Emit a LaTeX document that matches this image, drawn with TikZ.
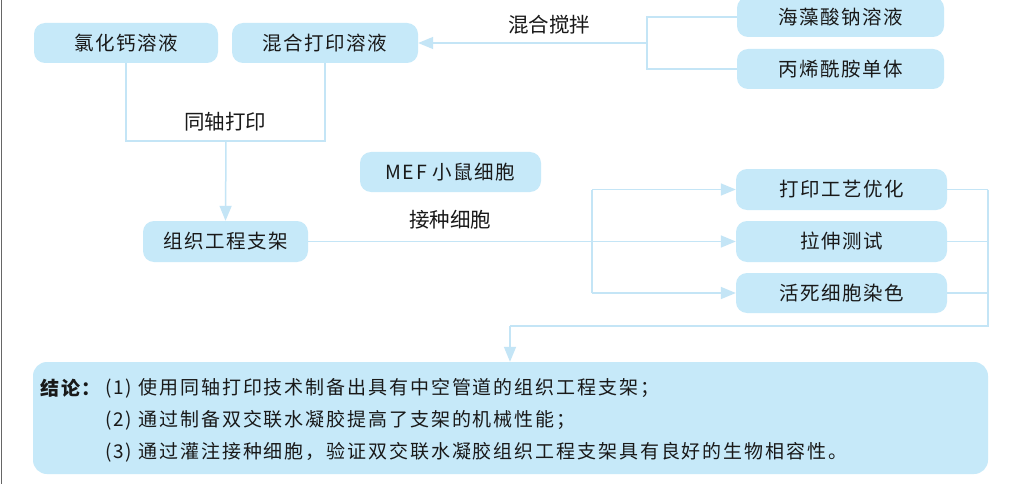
\documentclass[tikz,border=0pt]{standalone}
\usepackage{fontspec}
\setmainfont{Noto Sans CJK SC}
\newfontfamily\kfont[LetterSpace=8]{Noto Sans CJK SC}
\newfontfamily\cfont[LetterSpace=10]{Noto Sans CJK SC}
\usetikzlibrary{arrows.meta}
\definecolor{boxblue}{RGB}{198,233,249}
\definecolor{lineblue}{RGB}{196,229,246}
\definecolor{txt}{RGB}{25,25,25}
\begin{document}
\begin{tikzpicture}[x=1pt,y=-1pt,
  box/.style={fill=boxblue, rounded corners=11pt, minimum height=40pt, inner sep=0pt,
    text=txt, font=\kfont\fontsize{19.5}{21}\selectfont},
  conn/.style={draw=lineblue, line width=1.5pt},
  arr/.style={conn, -{Triangle[length=15pt,width=12pt]}},
  lbl/.style={text=txt, font=\fontsize{20.5}{22}\selectfont, inner sep=0pt},
  ctext/.style={text=txt, font=\cfont\fontsize{19}{21}\selectfont, inner sep=0pt, anchor=west},
]
\useasboundingbox (0,0) rectangle (1012,484);
\fill[white] (0,0) rectangle (1012,484);
\draw[gray!80!black, line width=1.2pt] (1.2,0) -- (1.2,484);

% boxes
\node[box, minimum width=184pt] (A) at (126,43) {氯化钙溶液};
\node[box, minimum width=186pt] (B) at (325,43) {混合打印溶液};
\node[box, minimum width=207pt] (C) at (840.5,17) {海藻酸钠溶液};
\node[box, minimum width=207pt] (D) at (840.5,69) {丙烯酰胺单体};
\node[box, minimum width=181pt] (E) at (450.5,172) {MEF 小鼠细胞};
\node[box, minimum width=165pt, minimum height=41pt] (F) at (225.5,241.5) {组织工程支架};
\node[box, minimum width=211pt, minimum height=41pt] (G) at (841.5,189.5) {打印工艺优化};
\node[box, minimum width=211pt, minimum height=41pt] (H) at (841.5,241.5) {拉伸测试};
\node[box, minimum width=211pt] (I) at (841.5,293) {活死细胞染色};

% labels
\node[lbl] (L1) at (549,25) {混合搅拌};
\node[lbl] (L2) at (225,122) {同轴打印};
\node[lbl] (L3) at (450,220) {接种细胞};

% coordinates
\coordinate (mix) at (647,43);
\coordinate (coax) at (226,141);
\coordinate (split) at (592,241.5);
\coordinate (rc) at (988,326);
\coordinate (dn) at (510,326);

% connectors
\draw[conn] (C.west) -| (mix);
\draw[conn] (D.west) -| (mix);
\draw[arr] (mix) -- (B.east);

\draw[conn] (A.south) |- (coax);
\draw[conn] (B.south) |- (coax);
\draw[arr] (coax) -- (F.north);

\draw[arr] (F.east) -- (H.west);
\draw[conn] (split |- G.west) -- (split |- I.west);
\draw[arr] (split |- G.west) -- (G.west);
\draw[arr] (split |- I.west) -- (I.west);

\draw[conn] (G.east) -- (rc |- G.east);
\draw[conn] (H.east) -- (rc |- H.east);
\draw[conn] (I.east) -- (rc |- I.east);
\draw[conn] (rc |- G.east) -- (rc) -- (dn);

% conclusion
\node[fill=boxblue, rounded corners=14pt, minimum width=955pt, minimum height=112pt, inner sep=0pt] (J) at (510.5,418) {};
\draw[arr] (dn) -- (dn |- J.north);

\node[ctext] (c0) at (40,388) {\textbf{结论：}};
\node[ctext] (c1) at (105,388) {(1) 使用同轴打印技术制备出具有中空管道的组织工程支架；};
\node[ctext] (c2) at (105,420) {(2) 通过制备双交联水凝胶提高了支架的机械性能；};
\node[ctext] (c3) at (105,452) {(3) 通过灌注接种细胞，验证双交联水凝胶组织工程支架具有良好的生物相容性。};
\end{tikzpicture}
\end{document}
